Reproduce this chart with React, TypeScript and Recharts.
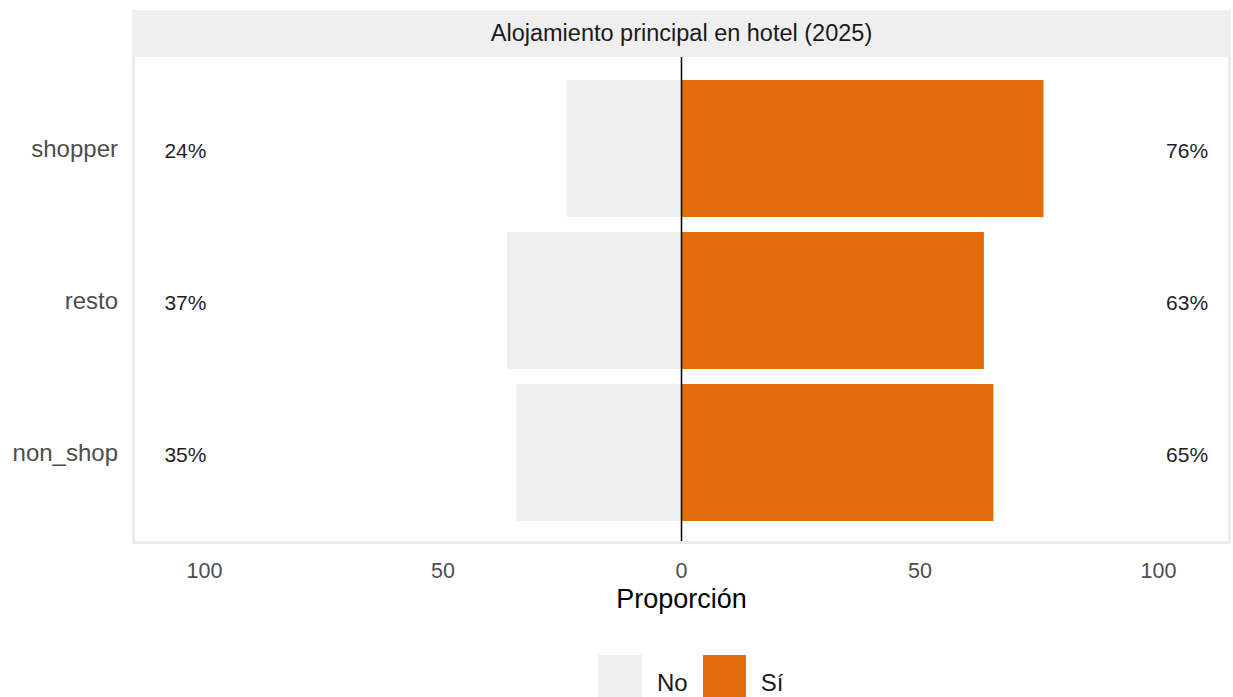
import React from 'react';
import { BarChart, Bar, XAxis, YAxis, ReferenceLine, LabelList } from 'recharts';

const groups = ['shopper', 'resto', 'non_shop'];
const noValues = [24.1, 36.6, 34.6];
const siValues = [75.9, 63.4, 65.4];
const xTicks = [-100, -50, 0, 50, 100];
const seriesNames = ['No', 'Sí'];
const title = 'Alojamiento principal en hotel (2025)';
const axisTitle = 'Proporción';

const data = groups.map((g, i) => ({ group: g, no: -noValues[i], si: siValues[i] }));

const NO_COLOR = '#efefef';
const SI_COLOR = '#e36c0a';
const FONT = '"Liberation Sans", Arial, Helvetica, sans-serif';

// labels sit at a fixed distance from zero, measured in data units
const makeLabel = (pos: number) => (props: any) => {
  const vb = props.viewBox && props.viewBox.width !== undefined ? props.viewBox : props;
  const { x, y, width, height } = vb;
  const v = Math.abs(Number(props.value));
  if (!v || width === undefined) return null;
  const left = Math.min(x, x + width);
  const right = Math.max(x, x + width);
  const unit = Math.abs(width) / v;
  const zero = pos < 0 ? right : left;
  return (
    <text
      x={zero + pos * unit}
      y={y + height / 2 + 2}
      textAnchor="middle"
      dominantBaseline="central"
      fill="#1f1f1f"
      fontSize={21}
      fontFamily={FONT}
    >
      {Math.round(v)}%
    </text>
  );
};

export default function App() {
  return (
    <div style={{ position: 'absolute', left: 0, top: 0, width: 1233, height: 697, overflow: 'hidden', background: '#fff', fontFamily: FONT }}>
      <div
        style={{
          position: 'absolute', left: 132, top: 10, width: 1099, height: 47, background: '#efefef',
          display: 'flex', alignItems: 'center', justifyContent: 'center', fontSize: 23.5, color: '#1a1a1a',
        }}
      >
        {title}
      </div>
      <BarChart
        width={1233}
        height={697}
        data={data}
        layout="vertical"
        stackOffset="sign"
        margin={{ top: 57, right: 3, bottom: 0, left: 0 }}
      >
        <XAxis
          type="number"
          domain={[-115, 115]}
          ticks={xTicks}
          allowDataOverflow
          tickFormatter={(v: number) => String(Math.abs(v))}
          axisLine={false}
          tickLine={false}
          height={154}
          tickMargin={14}
          tick={{ fill: '#4d4d4d', fontSize: 21.5, fontFamily: FONT }}
          label={{ value: axisTitle, position: 'insideTop', offset: 46, fill: '#000', fontSize: 27, fontFamily: FONT }}
        />
        <YAxis
          type="category"
          dataKey="group"
          width={133}
          axisLine={false}
          tickLine={false}
          tickMargin={9}
          padding={{ top: 15, bottom: 15 }}
          tick={{ fill: '#4d4d4d', fontSize: 24, fontFamily: FONT }}
        />
        <Bar dataKey="no" name={seriesNames[0]} stackId="a" fill={NO_COLOR} barSize={137} isAnimationActive={false}>
          <LabelList dataKey="no" content={makeLabel(-104)} />
        </Bar>
        <Bar dataKey="si" name={seriesNames[1]} stackId="a" fill={SI_COLOR} barSize={137} isAnimationActive={false}>
          <LabelList dataKey="si" content={makeLabel(106)} />
        </Bar>
        <ReferenceLine x={0} stroke="#000" strokeWidth={1.5} />
      </BarChart>
      <div
        style={{
          position: 'absolute', left: 132, top: 57, width: 1099, height: 487, boxSizing: 'border-box',
          border: '3px solid #ebebeb', borderTop: 'none', pointerEvents: 'none',
        }}
      />
      <div style={{ position: 'absolute', left: 598, top: 655, display: 'flex', alignItems: 'flex-start', fontSize: 24, color: '#1a1a1a' }}>
        <div style={{ width: 44, height: 44, background: NO_COLOR }} />
        <span style={{ marginLeft: 15, marginRight: 15, marginTop: 14 }}>{seriesNames[0]}</span>
        <div style={{ width: 43, height: 44, background: SI_COLOR }} />
        <span style={{ marginLeft: 15, marginTop: 14 }}>{seriesNames[1]}</span>
      </div>
    </div>
  );
}
